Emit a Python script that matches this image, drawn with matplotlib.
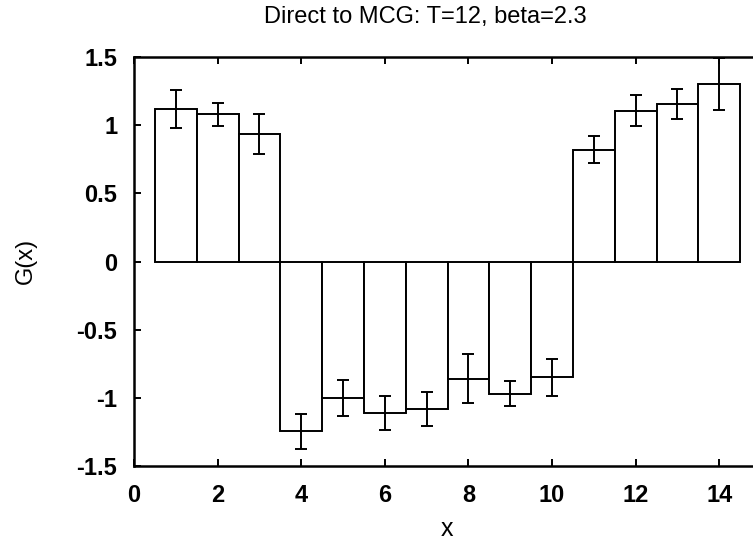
import matplotlib
matplotlib.use('Agg')
import matplotlib.pyplot as plt
import numpy as np

plt.rcParams['font.family'] = ['Liberation Sans', 'DejaVu Sans']

x = [1, 2, 3, 4, 5, 6, 7, 8, 9, 10, 11, 12, 13, 14]
g = [1.12, 1.08, 0.935, -1.245, -1.00, -1.11, -1.08, -0.86, -0.97, -0.85, 0.82, 1.105, 1.155, 1.30]
g_err = [0.14, 0.086, 0.145, 0.128, 0.13, 0.125, 0.126, 0.18, 0.09, 0.136, 0.097, 0.114, 0.113, 0.19]

xticks = [0, 2, 4, 6, 8, 10, 12, 14]
yticks = [-1.5, -1, -0.5, 0, 0.5, 1, 1.5]
ylabels = ['-1.5', '-1', '-0.5', '0', '0.5', '1', '1.5']

W, H = 753, 543
fig = plt.figure(figsize=(W / 100, H / 100), dpi=100)
ax = fig.add_axes([134 / W, 1 - 466 / H, (761 - 134) / W, (466 - 57) / H])

ax.bar(x, g, width=1.0, color='white', edgecolor='black', linewidth=1.4, zorder=2)
ax.errorbar(x, g, yerr=g_err, fmt='none', ecolor='black', elinewidth=1.4,
            capsize=4, capthick=1.4, zorder=3)

ax.set_xlim(0, 15)
ax.set_ylim(-1.5, 1.5)
ax.set_xticks(xticks)
ax.set_xticklabels([str(t) for t in xticks], fontweight='bold')
ax.set_yticks(yticks)
ax.set_yticklabels(ylabels, fontweight='bold')
ax.tick_params(direction='in', length=5, width=1.4, top=True, right=True,
               labelsize=17)
ax.tick_params(axis='x', pad=13)
ax.tick_params(axis='y', pad=12)
for s in ax.spines.values():
    s.set_linewidth(1.8)

ax.set_xlabel('x', fontsize=18, va='center')
ax.xaxis.set_label_coords((447 - 134) / 627, -(529 - 466) / 409)
ax.set_ylabel('G(x)', fontsize=17, va='center')
ax.yaxis.set_label_coords((26 - 134) / 627, (466 - 261) / 409)

fig.text(425 / W, 1 - 17 / H, 'Direct to MCG: T=12, beta=2.3', fontsize=17,
         ha='center', va='center')

fig.savefig('out.png', dpi=100)
